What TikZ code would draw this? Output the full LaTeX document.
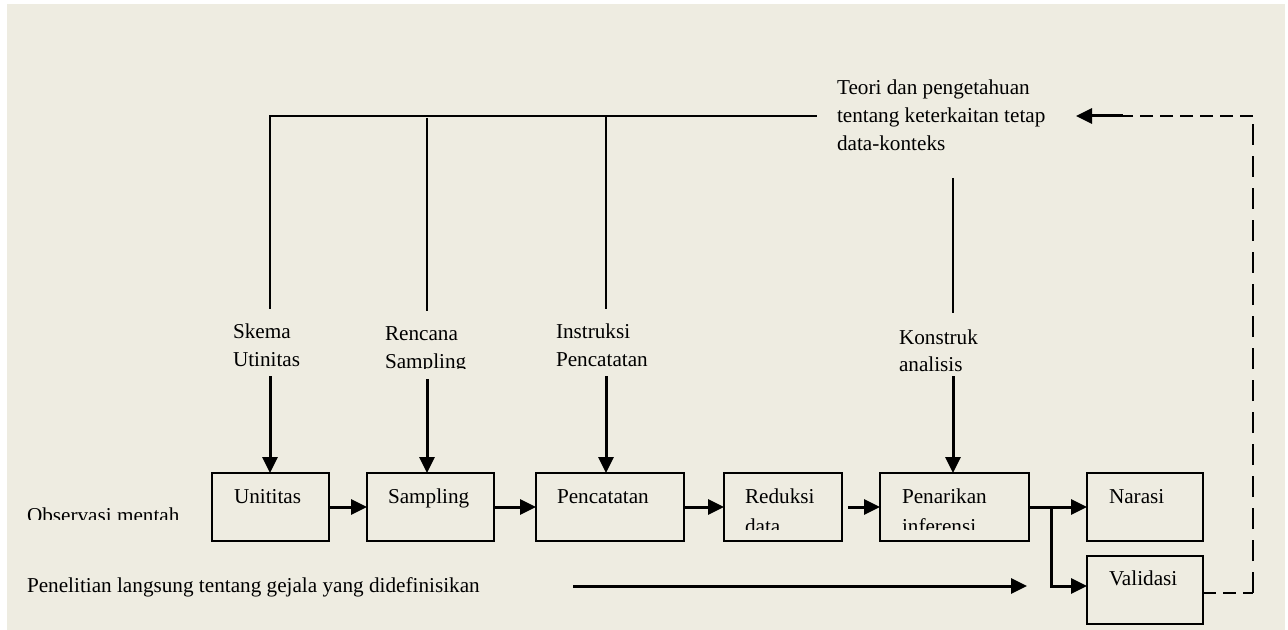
\documentclass[tikz,border=0pt]{standalone}
\usepackage{fontspec}
\setmainfont{Liberation Serif}
\usetikzlibrary{arrows.meta}
\definecolor{bgc}{HTML}{EEECE1}
\tikzset{
  txt/.style={anchor=base west, inner sep=0pt, outer sep=0pt, font=\fontsize{10.6}{12}\selectfont},
  procbox/.style={draw, anchor=north west, inner sep=0pt, outer sep=0pt, line width=1.2pt, minimum height=34pt},
  thin/.style={line width=1pt},
  arr/.style={line width=1.5pt, -{Triangle[length=8pt,width=7.5pt]}},
  dsh/.style={line width=1pt, dash pattern=on 6.5pt off 3.5pt},
  dshv/.style={line width=1pt, dash pattern=on 10.5pt off 5.5pt},
}
\begin{document}
\begin{tikzpicture}[x=0.5pt,y=-0.5pt]
\useasboundingbox (0,0) rectangle (1288,630);
\fill[white] (0,0) rectangle (1288,630);
\fill[bgc] (7,4) rectangle (1285,630);

% boxes
\node[procbox, minimum width=58.5pt] (unit) at (212,473) {};
\node[procbox, minimum width=63.5pt] (samp) at (367,473) {};
\node[procbox, minimum width=74pt] (penc) at (536,473) {};
\node[procbox, minimum width=59pt] (redu) at (724,473) {};
\node[procbox, minimum width=74.5pt] (pena) at (880,473) {};
\node[procbox, minimum width=58pt] (nara) at (1087,473) {};
\node[procbox, minimum width=58pt] (vali) at (1087,556) {};

% box texts
\node[txt] (tunit) at (234,503) {Unititas};
\node[txt] (tsamp) at (388,503) {Sampling};
\node[txt] (tpenc) at (557,503) {Pencatatan};
\begin{scope}
\clip (724,473) rectangle (842,529);
\node[txt] (tredu1) at (745,503) {Reduksi};
\node[txt] (tredu2) at (745,533) {data};
\end{scope}
\begin{scope}
\clip (880,473) rectangle (1029,529);
\node[txt] (tpena1) at (902,503) {Penarikan};
\node[txt] (tpena2) at (902,533) {inferensi};
\end{scope}
\node[txt] (tnara) at (1109,503) {Narasi};
\node[txt] (tvali) at (1109,585) {Validasi};

% side texts
\begin{scope}
\clip (20,490) rectangle (220,519);
\node[txt] (obs) at (27,522) {Observasi mentah};
\end{scope}
\node[txt] (pen) at (27,592) {Penelitian langsung tentang gejala yang didefinisikan};

% top text
\node[txt] (teori1) at (837,95) {Teori dan pengetahuan};
\node[txt] (teori2) at (837,123) {tentang keterkaitan tetap};
\node[txt] (teori3) at (837,151) {data-konteks};

% labels
\node[txt] (skema1) at (233,338) {Skema};
\node[txt] (skema2) at (233,366) {Utinitas};
\begin{scope}
\clip (380,310) rectangle (480,368);
\node[txt] (renc1) at (385,340) {Rencana};
\node[txt] (renc2) at (385,368) {Sampling};
\end{scope}
\node[txt] (inst1) at (556,338) {Instruksi};
\node[txt] (inst2) at (556,366) {Pencatatan};
\node[txt] (kons1) at (899,344) {Konstruk};
\node[txt] (kons2) at (899,371) {analisis};

% coordinates
\coordinate (topL) at (270,116);
\coordinate (topR) at (817,116);
\coordinate (sk) at (270,309);
\coordinate (rcT) at (427,118);
\coordinate (rcB) at (427,311);
\coordinate (inT) at (606,116);
\coordinate (inB) at (606,309);
\coordinate (koT) at (953,178);
\coordinate (koB) at (953,313);
\coordinate (skA) at (270,376);
\coordinate (rcA) at (427,379);
\coordinate (inA) at (606,376);
\coordinate (koA) at (953,376);
\coordinate (br) at (1051,507);
\coordinate (penS) at (573,586);
\coordinate (penE) at (1027,586);
\coordinate (dR) at (1253,593);
\coordinate (dT) at (1253,116);
\coordinate (dL) at (1123,116);
\coordinate (dTip) at (1076,116);

% top lines
\draw[thin] (sk) -- (topL) -- (topR);
\draw[thin] (rcT) -- (rcB);
\draw[thin] (inT) -- (inB);
\draw[thin] (koT) -- (koB);

% down arrows
\draw[arr] (skA) -- (skA |- unit.north);
\draw[arr] (rcA) -- (rcA |- samp.north);
\draw[arr] (inA) -- (inA |- penc.north);
\draw[arr] (koA) -- (koA |- pena.north);

% main flow
\draw[arr] (unit.east) -- (samp.west);
\draw[arr] (samp.east) -- (penc.west);
\draw[arr] (penc.east) -- (redu.west);
\draw[arr] ([xshift=3pt]redu.east) -- (pena.west);
\draw[arr] (pena.east) -- (nara.west);
\draw[arr] (br) |- ([yshift=2pt]vali.west);
\draw[arr] (penS) -- (penE);

% dashed feedback
\draw[dsh] ([yshift=-1.5pt]vali.east) -- (dR);
\draw[dshv] (dR) -- (dT);
\draw[dsh] (dT) -- (dL);
\draw[arr] (dL) -- (dTip);
\end{tikzpicture}
\end{document}
